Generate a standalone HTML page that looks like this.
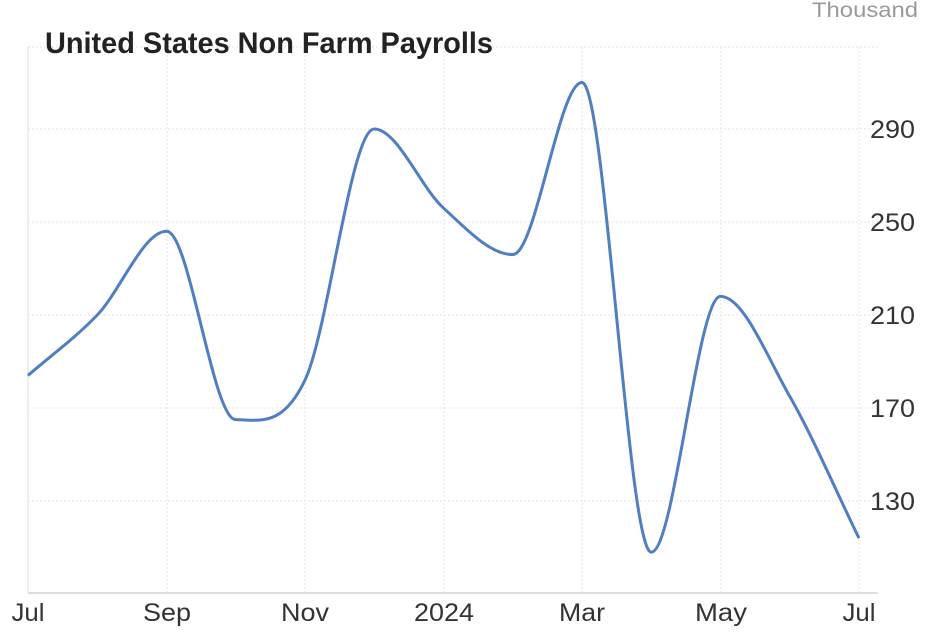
<!DOCTYPE html>
<html><head><meta charset="utf-8"><style>
body{margin:0;background:#fff;}
svg text{font-family:"Liberation Sans",Arial,sans-serif;}
</style></head><body>
<svg id="s" width="928" height="638" xmlns="http://www.w3.org/2000/svg">
<g stroke="#e3e3e3" stroke-dasharray="2,2" stroke-width="1">
<line x1="28" y1="47" x2="878" y2="47"/>
<line x1="28" y1="129" x2="878" y2="129"/>
<line x1="28" y1="222" x2="878" y2="222"/>
<line x1="28" y1="315" x2="878" y2="315"/>
<line x1="28" y1="408" x2="878" y2="408"/>
<line x1="28" y1="501" x2="878" y2="501"/>
<line x1="167" y1="47" x2="167" y2="593"/>
<line x1="305" y1="47" x2="305" y2="593"/>
<line x1="444" y1="47" x2="444" y2="593"/>
<line x1="582" y1="47" x2="582" y2="593"/>
<line x1="721" y1="47" x2="721" y2="593"/>
<line x1="859" y1="47" x2="859" y2="593"/>
</g>
<line x1="28" y1="47" x2="28" y2="593" stroke="#ddd"/>
<line x1="28" y1="593" x2="878" y2="593" stroke="#ddd" stroke-width="2"/>
<text x="918" y="17" text-anchor="end" font-size="21" fill="#999" textLength="106" lengthAdjust="spacingAndGlyphs">Thousand</text>
<text x="45" y="53" font-size="30" font-weight="bold" fill="#222" textLength="448" lengthAdjust="spacingAndGlyphs">United States Non Farm Payrolls</text>
<g font-size="25" fill="#333" text-anchor="end">
<text x="915" y="138" textLength="45" lengthAdjust="spacingAndGlyphs">290</text><text x="915" y="231" textLength="45" lengthAdjust="spacingAndGlyphs">250</text><text x="915" y="324" textLength="45" lengthAdjust="spacingAndGlyphs">210</text><text x="915" y="417" textLength="45" lengthAdjust="spacingAndGlyphs">170</text><text x="915" y="510" textLength="45" lengthAdjust="spacingAndGlyphs">130</text>
</g>
<g font-size="25" fill="#333" text-anchor="middle">
<text x="28" y="621" textLength="33" lengthAdjust="spacingAndGlyphs">Jul</text><text x="167" y="621" textLength="48" lengthAdjust="spacingAndGlyphs">Sep</text><text x="305" y="621" textLength="48" lengthAdjust="spacingAndGlyphs">Nov</text><text x="444" y="621" textLength="60" lengthAdjust="spacingAndGlyphs">2024</text><text x="582" y="621" textLength="46" lengthAdjust="spacingAndGlyphs">Mar</text><text x="721" y="621" textLength="52" lengthAdjust="spacingAndGlyphs">May</text><text x="859" y="621" textLength="33" lengthAdjust="spacingAndGlyphs">Jul</text>
</g>
<path id="p" fill="none" stroke="#4f7fc0" stroke-width="3" stroke-linejoin="round"/>
</svg>
<script>
var v=[184,210,246,165,182,290,256,236,310,108,218,175,114];
var pts=v.map(function(d,i){return [28+i*69.25,501-(d-130)*2.325];});
var d="M"+pts[0][0]+","+pts[0][1];
function slope(i){
 if(i==0)return (pts[1][1]-pts[0][1])/(pts[1][0]-pts[0][0]);
 var n=pts.length-1;
 if(i==n)return (pts[n][1]-pts[n-1][1])/(pts[n][0]-pts[n-1][0]);
 var a=(pts[i][1]-pts[i-1][1]),b=(pts[i+1][1]-pts[i][1]);
 if(a*b<=0)return 0;
 return (a+b)/2/69.25;
}
for(var i=0;i<pts.length-1;i++){
 var h=69.25/3,m0=slope(i),m1=slope(i+1);
 d+=" C"+(pts[i][0]+h)+","+(pts[i][1]+m0*h)+" "+(pts[i+1][0]-h)+","+(pts[i+1][1]-m1*h)+" "+pts[i+1][0]+","+pts[i+1][1];
}
document.getElementById("p").setAttribute("d",d);
</script>
</body></html>
